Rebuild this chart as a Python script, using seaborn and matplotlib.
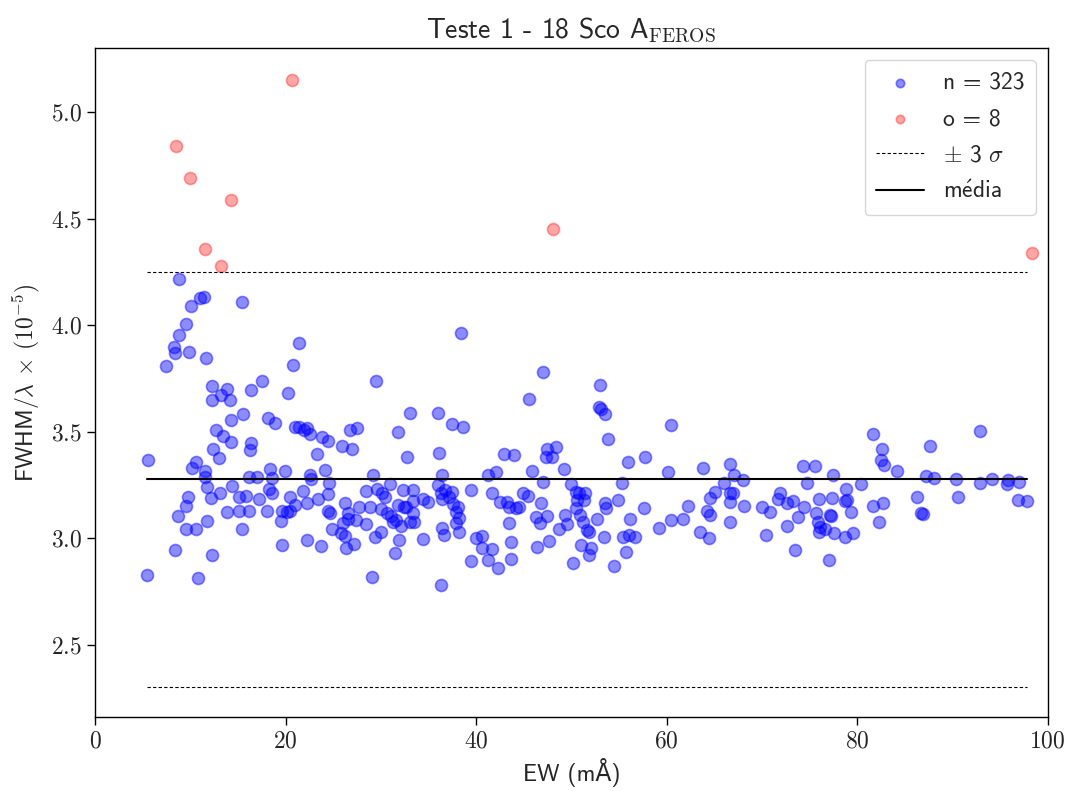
import matplotlib
matplotlib.use("Agg")
import matplotlib.pyplot as plt
import seaborn as sns
import numpy as np
import pandas as pd

# ---- data ----
pts_n = [
    (8.85,4.218),(11.4,4.134),(11.0,4.129),(10.1,4.09),(15.4,4.11),(9.5,4.006),(8.8,3.955),(8.3,3.90),
    (8.4,3.868),(9.9,3.873),(11.6,3.846),(7.4,3.809),(12.3,3.715),(13.9,3.70),(13.2,3.674),(12.3,3.649),
    (14.2,3.649),(16.4,3.696),(15.5,3.583),(14.3,3.557),(12.7,3.51),(13.4,3.48),(14.3,3.45),
    (16.4,3.446),(16.3,3.415),(12.4,3.418),(13.0,3.379),(5.6,3.368),(10.6,3.36),(10.2,3.33),(11.5,3.315),
    (11.5,3.29),(11.7,3.24),(9.8,3.196),(9.5,3.152),(8.7,3.105),(12.2,3.188),(13.1,3.212),(14.4,3.246),
    (15.1,3.196),(15.8,3.199),(16.2,3.29),(17.0,3.287),(13.8,3.126),(15.1,3.13),(16.2,3.13),(17.2,3.186),
    (9.5,3.044),(10.6,3.043),(11.7,3.082),(15.4,3.044),(8.4,2.945),(12.3,2.92),(5.5,2.828),(10.8,2.814),
    (21.4,3.915),(20.8,3.812),(17.5,3.738),(20.3,3.68),(29.5,3.737),(33.1,3.587),(18.2,3.565),(18.9,3.543),
    (21.0,3.524),(21.4,3.524),(22.2,3.519),(22.6,3.49),(21.9,3.508),(23.8,3.474),(24.4,3.458),(25.9,3.435),
    (27.0,3.42),(26.8,3.508),(27.5,3.518),(31.8,3.499),(32.7,3.38),(23.3,3.395),(18.4,3.324),(18.6,3.282),
    (19.9,3.315),(24.1,3.322),(22.6,3.297),(22.7,3.279),(24.6,3.26),(29.2,3.299),(31.0,3.255),(18.3,3.23),
    (18.6,3.214),(21.8,3.224),(24.5,3.207),(28.4,3.224),(29.6,3.23),(30.1,3.212),(30.4,3.193),(32.3,3.227),
    (33.4,3.227),(20.5,3.196),(22.2,3.165),(23.4,3.186),(26.2,3.165),(27.7,3.146),(28.9,3.146),(31.8,3.158),
    (32.6,3.146),(33.4,3.177),(18.0,3.13),(19.6,3.13),(20.1,3.126),(20.5,3.13),(21.0,3.157),(24.4,3.13),
    (24.7,3.12),(26.5,3.118),(26.6,3.09),(30.0,3.136),(30.6,3.118),(31.1,3.105),(31.6,3.086),(32.4,3.146),
    (33.4,3.118),(19.5,3.082),(27.4,3.086),(28.4,3.066),(26.0,3.071),(25.8,3.027),(26.2,3.011),(24.9,3.043),
    (31.3,3.079),(32.1,3.058),(33.1,3.079),(30.0,3.032),(29.4,3.008),(19.6,2.968),(22.2,2.993),(23.7,2.964),
    (27.2,2.974),(26.3,2.954),(31.9,2.993),(31.5,2.93),(29.1,2.82),
    (38.4,3.965),(47.0,3.779),(45.5,3.655),(36.0,3.59),(37.5,3.537),(38.6,3.523),(36.1,3.399),(42.9,3.396),
    (44.0,3.391),(47.4,3.418),(48.4,3.43),(47.3,3.383),(48.0,3.38),(49.2,3.324),(45.9,3.318),(36.4,3.296),
    (41.2,3.296),(42.1,3.313),(47.0,3.266),(50.0,3.255),(50.5,3.219),(34.4,3.183),(35.0,3.172),(36.0,3.25),
    (36.3,3.212),(36.7,3.227),(37.5,3.219),(37.2,3.196),(36.4,3.183),(37.6,3.161),(38.1,3.149),(37.9,3.124),
    (39.5,3.227),(41.7,3.214),(42.5,3.172),(43.2,3.172),(43.5,3.146),(44.2,3.141),(44.5,3.146),(44.9,3.212),
    (45.4,3.199),(46.8,3.165),(49.3,3.11),(50.5,3.141),(33.5,3.079),(38.2,3.094),(37.9,3.074),(38.2,3.032),
    (36.4,3.047),(36.6,3.016),(43.4,3.071),(46.3,3.102),(46.7,3.074),(47.4,3.105),(48.7,3.043),(49.5,3.068),
    (34.4,2.996),(40.0,3.003),(40.6,3.013),(40.6,2.954),(41.7,2.949),(43.7,2.985),(46.4,2.961),(47.7,2.986),
    (39.5,2.894),(41.3,2.897),(42.3,2.86),(43.7,2.902),(50.2,2.883),(36.3,2.78),
    (53.0,3.72),(52.9,3.615),(53.1,3.608),(53.5,3.585),(60.5,3.532),(53.8,3.465),(55.9,3.357),(57.7,3.383),
    (60.1,3.311),(63.8,3.329),(66.6,3.349),(67.1,3.297),(55.3,3.258),(50.8,3.212),(51.4,3.212),(51.3,3.18),
    (50.6,3.18),(66.0,3.258),(65.1,3.219),(64.5,3.188),(66.6,3.214),(67.0,3.214),(66.6,3.169),(54.9,3.18),
    (53.5,3.165),(53.6,3.141),(57.6,3.141),(62.2,3.152),(50.9,3.11),(51.2,3.079),(52.7,3.091),(56.2,3.091),
    (60.5,3.086),(61.7,3.091),(64.2,3.13),(64.5,3.11),(66.7,3.076),(51.6,3.04),(51.9,3.032),(53.4,3.008),
    (55.4,3.006),(56.0,3.016),(56.7,3.006),(59.2,3.05),(63.5,3.029),(64.4,3.0),(51.0,2.969),(52.1,2.954),
    (51.9,2.922),(55.7,2.938),(54.5,2.872),
    (81.7,3.49),(82.6,3.418),(82.5,3.368),(82.8,3.346),(84.2,3.318),(68.0,3.274),(74.3,3.34),(75.6,3.341),
    (77.5,3.297),(74.7,3.258),(80.4,3.255),(78.8,3.23),(78.9,3.18),(78.7,3.177),(71.9,3.214),(71.7,3.183),
    (72.6,3.167),(73.3,3.177),(76.0,3.183),(77.4,3.19),(68.1,3.153),(70.0,3.149),(70.8,3.126),(74.4,3.146),
    (73.8,3.102),(75.7,3.118),(75.9,3.079),(76.1,3.055),(77.1,3.11),(77.2,3.105),(76.6,3.043),(76.0,3.032),
    (79.3,3.126),(81.7,3.152),(82.7,3.165),(72.6,3.06),(77.6,3.024),(78.7,3.006),(79.6,3.024),(82.3,3.076),
    (70.4,3.016),(73.5,2.945),(77.0,2.899),
    (92.9,3.505),(87.6,3.433),(87.2,3.294),(88.1,3.282),(90.4,3.279),(92.9,3.258),(94.2,3.279),(95.8,3.274),
    (95.7,3.254),(97.0,3.266),(86.3,3.196),(90.6,3.193),(96.9,3.18),(97.8,3.177),(86.7,3.118),(86.9,3.115),
]
ew_n = [p[0] for p in pts_n]
fwhm_n = [p[1] for p in pts_n]

ew_o = [8.5, 10.0, 14.3, 11.5, 13.2, 20.7, 48.1, 98.3]
fwhm_o = [4.84, 4.69, 4.59, 4.36, 4.28, 5.15, 4.45, 4.34]

mean_val = 3.277
sigma3 = 0.974

label_n = "n = 323"
label_o = "o = 8"
label_s = r"$\pm$ 3 $\sigma$"
label_m = r"$\mathsf{m\acute{e}dia}$"

# ---- plotting ----
sns.set_style("ticks")
plt.rcParams["font.family"] = ["cmss10", "DejaVu Sans"]
plt.rcParams["mathtext.fontset"] = "cm"
plt.rcParams["axes.formatter.use_mathtext"] = True
plt.rcParams["axes.unicode_minus"] = False

fig = plt.figure(figsize=(10.68, 7.91), dpi=100)
ax = fig.add_axes([0.089, 0.0936, 0.892, 0.8454])

df_n = pd.DataFrame({"EW": ew_n, "FWHM": fwhm_n})
df_o = pd.DataFrame({"EW": ew_o, "FWHM": fwhm_o})

sns.scatterplot(data=df_n, x="EW", y="FWHM", ax=ax, color="blue", alpha=0.45,
                s=75, edgecolor="blue", linewidth=1.2, label=label_n)
sns.scatterplot(data=df_o, x="EW", y="FWHM", ax=ax, color="red", alpha=0.35,
                s=75, edgecolor="red", linewidth=1.2, label=label_o)

xline = [min(ew_n), max(ew_n)]
ax.plot(xline, [mean_val + sigma3] * 2, color="black", lw=0.8, ls=(0, (3, 2)), label=label_s)
ax.plot(xline, [mean_val - sigma3] * 2, color="black", lw=0.8, ls=(0, (3, 2)))
ax.plot(xline, [mean_val] * 2, color="black", lw=1.5, label=label_m)

ax.set_xlim(0, 100)
ax.set_ylim(2.162, 5.30)
ax.set_xticks([0, 20, 40, 60, 80, 100])
ax.set_yticks([2.5, 3.0, 3.5, 4.0, 4.5, 5.0])
ax.tick_params(labelsize=17, labelfontfamily="cmr10", length=6, width=1, color="black")
for sp in ax.spines.values():
    sp.set_color("black")
    sp.set_linewidth(1.0)

ax.set_xlabel("EW (mÅ)", fontsize=17, labelpad=4)
ax.set_ylabel(r"FWHM/$\lambda$ $\times$ $(10^{-5})$", fontsize=17, labelpad=6)
ax.set_title(r"Teste 1 - 18 Sco A$_{\mathrm{FEROS}}$", fontsize=20, pad=7)

ax.legend(loc="upper right", fontsize=17, markerscale=0.7, frameon=True,
          fancybox=True, edgecolor="#cccccc", handlelength=2.0, borderpad=0.5,
          labelspacing=0.6)

fig.savefig("out.png", dpi=100)
